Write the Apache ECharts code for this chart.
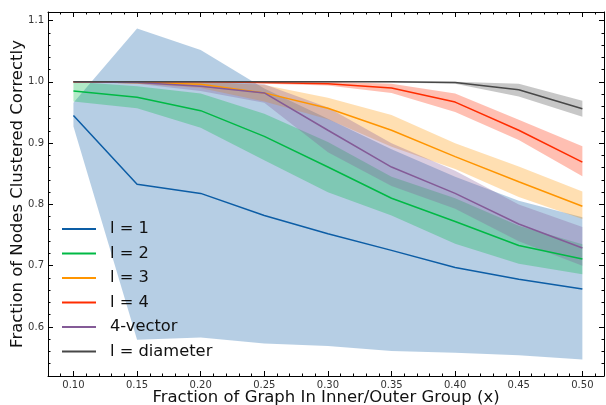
<!DOCTYPE html>
<html><head><meta charset="utf-8">
<script src="https://cdn.jsdelivr.net/npm/echarts@6/dist/echarts.min.js"></script>
<style>html,body{margin:0;padding:0;background:#fff}#c{width:606px;height:405px}</style>
</head><body><div id="c"></div>
<script>
// ---- data ----
const xs = [0.10, 0.15, 0.20, 0.25, 0.30, 0.35, 0.40, 0.45, 0.50];
const xTicks = [0.10, 0.15, 0.20, 0.25, 0.30, 0.35, 0.40, 0.45, 0.50];
const yTicks = [0.6, 0.7, 0.8, 0.9, 1.0, 1.1];
const names = ['l = 1', 'l = 2', 'l = 3', 'l = 4', '4-vector', 'l = diameter'];

const l1   = [0.945, 0.833, 0.818, 0.782, 0.752, 0.725, 0.697, 0.678, 0.662];
const l1Lo = [0.927, 0.579, 0.583, 0.573, 0.569, 0.561, 0.558, 0.554, 0.547];
const l1Hi = [0.966, 1.087, 1.052, 0.989, 0.940, 0.890, 0.845, 0.806, 0.779];

const l2   = [0.985, 0.975, 0.953, 0.911, 0.861, 0.810, 0.772, 0.733, 0.711];
const l2Lo = [0.968, 0.957, 0.925, 0.872, 0.820, 0.782, 0.736, 0.703, 0.686];
const l2Hi = [1.000, 0.993, 0.981, 0.948, 0.902, 0.845, 0.810, 0.765, 0.735];

const l3   = [1.000, 0.999, 0.996, 0.982, 0.957, 0.921, 0.878, 0.837, 0.797];
const l3Lo = [1.000, 0.997, 0.990, 0.968, 0.939, 0.894, 0.858, 0.812, 0.776];
const l3Hi = [1.000, 1.000, 1.000, 0.995, 0.974, 0.946, 0.900, 0.862, 0.821];

const l4   = [1.000, 1.000, 1.000, 0.999, 0.997, 0.990, 0.967, 0.921, 0.869];
const l4Lo = [1.000, 1.000, 1.000, 0.997, 0.994, 0.982, 0.951, 0.905, 0.846];
const l4Hi = [1.000, 1.000, 1.000, 1.000, 1.000, 0.997, 0.981, 0.938, 0.895];

const v4   = [1.000, 0.999, 0.993, 0.982, 0.921, 0.861, 0.818, 0.768, 0.729];
const v4Lo = [1.000, 0.997, 0.985, 0.966, 0.885, 0.830, 0.793, 0.740, 0.700];
const v4Hi = [1.000, 1.000, 1.000, 0.996, 0.958, 0.900, 0.855, 0.800, 0.763];

const ld   = [1.000, 1.000, 1.000, 1.000, 1.000, 1.000, 0.999, 0.987, 0.956];
const ldLo = [1.000, 1.000, 1.000, 1.000, 1.000, 0.999, 0.997, 0.976, 0.943];
const ldHi = [1.000, 1.000, 1.000, 1.000, 1.000, 1.000, 1.000, 0.997, 0.969];

// ---- chart ----
const colors = ['#0C5DA5', '#00B945', '#FF9500', '#FF2C00', '#845B97', '#474747'];
const mids = [l1, l2, l3, l4, v4, ld];
const los = [l1Lo, l2Lo, l3Lo, l4Lo, v4Lo, ldLo];
const his = [l1Hi, l2Hi, l3Hi, l4Hi, v4Hi, ldHi];
const FONT = 'DejaVu Sans';
const XMIN = 0.08, XMAX = 0.517, YMIN = 0.52, YMAX = 1.114;

function isMul(v, step) { const r = v / step; return Math.abs(r - Math.round(r)) < 1e-6; }

function band(lo, hi, color) {
  return {
    type: 'custom', xAxisIndex: 0, yAxisIndex: 0, silent: true, z: 1,
    data: xs.map((x, i) => [x, lo[i], hi[i]]),
    encode: { x: 0, y: [1, 2] },
    renderItem(params, api) {
      if (params.dataIndex !== 0) return null;
      const pts = [];
      for (let i = 0; i < xs.length; i++) pts.push(api.coord([xs[i], hi[i]]));
      for (let i = xs.length - 1; i >= 0; i--) pts.push(api.coord([xs[i], lo[i]]));
      return { type: 'polygon', shape: { points: pts }, style: { fill: color, opacity: 0.3 } };
    }
  };
}

const series = [];
for (let k = 0; k < 6; k++) series.push(band(los[k], his[k], colors[k]));
for (let k = 0; k < 6; k++) series.push({
  type: 'line', name: names[k], xAxisIndex: 0, yAxisIndex: 0, z: 3 + k,
  data: xs.map((x, i) => [x, mids[k][i]]),
  showSymbol: false, symbol: 'none',
  lineStyle: { color: colors[k], width: 1.5 }, itemStyle: { color: colors[k] }
});

const tickStyle = { color: '#000', width: 1 };
function xAx(pos, major, main) {
  const a = {
    type: 'value', position: pos, min: XMIN, max: XMAX, splitLine: { show: false },
    axisLine: { show: main, lineStyle: { color: '#000', width: 1 } },
    axisTick: { inside: true, length: major ? 5 : 2.5, lineStyle: tickStyle },
    axisLabel: { show: false }
  };
  if (major) a.axisTick.customValues = xTicks; else a.interval = 0.01;
  if (main && pos === 'bottom') {
    a.axisLabel = { show: true, fontFamily: FONT, fontSize: 10, color: '#333', margin: 4,
      formatter: v => isMul(v, 0.05) && v > 0.09 && v < 0.51 ? v.toFixed(2) : '' };
    a.name = 'Fraction of Graph In Inner/Outer Group (x)';
    a.nameLocation = 'middle'; a.nameGap = 13; a.nameMoveOverlap = false;
    a.nameTextStyle = { fontFamily: FONT, fontSize: 16.5, color: '#111' };
  }
  return a;
}
function yAx(pos, major, main) {
  const a = {
    type: 'value', position: pos, min: YMIN, max: YMAX, splitLine: { show: false },
    axisLine: { show: main, lineStyle: { color: '#000', width: 1 } },
    axisTick: { inside: true, length: major ? 5 : 2.5, lineStyle: tickStyle },
    axisLabel: { show: false }
  };
  if (major) a.axisTick.customValues = yTicks; else a.interval = 0.02;
  if (main && pos === 'left') {
    a.axisLabel = { show: true, fontFamily: FONT, fontSize: 10, color: '#333', margin: 4,
      formatter: v => isMul(v, 0.1) && v > 0.55 && v < 1.11 ? v.toFixed(1) : '' };
    a.name = 'Fraction of Nodes Clustered Correctly';
    a.nameLocation = 'middle'; a.nameGap = 22; a.nameMoveOverlap = false;
    a.nameTextStyle = { fontFamily: FONT, fontSize: 16.5, color: '#111' };
  }
  return a;
}

const chart = echarts.init(document.getElementById('c'), null, { renderer: 'canvas' });
chart.setOption({
  animation: false,
  backgroundColor: '#fff',
  grid: { left: 48, top: 12, width: 556, height: 364, containLabel: false, outerBoundsMode: 'none' },
  xAxis: [xAx('bottom', false, true), xAx('bottom', true, false), xAx('top', false, true), xAx('top', true, false)],
  yAxis: [yAx('left', false, true), yAx('left', true, false), yAx('right', false, true), yAx('right', true, false)],
  legend: {
    orient: 'vertical', left: 57, top: 214, icon: 'rect', itemWidth: 34, itemHeight: 2, itemGap: 4.5,
    textStyle: { fontFamily: FONT, fontSize: 16.3, color: '#111', lineHeight: 20, padding: [0, 0, 0, 9] },
    data: names
  },
  series: series
});
</script></body></html>
